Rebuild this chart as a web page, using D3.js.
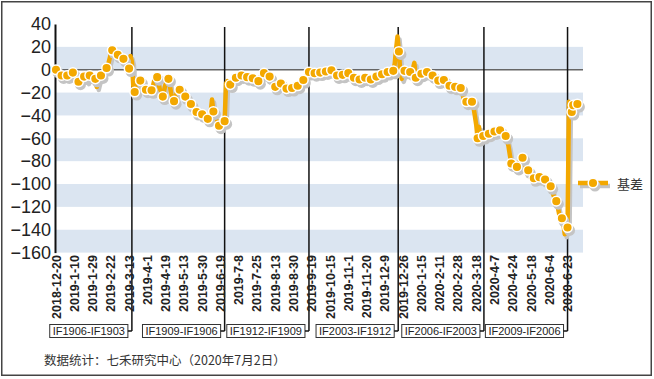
<!DOCTYPE html>
<html><head><meta charset="utf-8">
<script src="https://cdn.jsdelivr.net/npm/d3@7"></script>
<style>
html,body{margin:0;padding:0;background:#fff;}
svg{display:block;}
</style></head>
<body>
<svg id="chart" width="654" height="379"></svg>
<script>
// Daily basis values (trading days)
const basis = [
 0,-2,-4,-3, -5,-6,-4,-5, -5,-7,-4,-3, -2.5,-4,-8,-10, -10.5,-9,-7,-6, -6,-8,-10,-6,
 -5,-4,-6,-9, -8,-15,-10,-6, -5,-4,-2,0, 1.5,4,9,14, 17,16,14,13, 13,12,10,10,
 9.5,8,6,3, 1,12,7,-14, -19.5,-17,-13,-10, -9.5,-12,-16,-18, -17.5,-19,-18,-17,
 -18,-14,-9,-7, -6.5,-12,-18,-22, -23.5,-18,-12,-9, -8,-14,-21,-26, -27.5,-24,-20,-18,
 -17.5,-19,-21,-22, -23.5,-25,-27,-29, -30,-32,-34,-36, -37,-38,-38,-39, -39,-40,-42,-42,
 -43,-40,-38,-26, -36.5,-40,-44,-47, -49,-48,-47,-46, -45,-12,-10,-11, -13,-11,-9,-8,
 -7,-6,-5,-5, -5,-6,-6,-7, -6.5,-7,-7,-7, -7.5,-8,-9,-10, -10,-8,-5,-3, -3,-4,-5,-6,
 -6,-9,-13,-15, -15,-17,-14,-12, -12,-13,-15,-16, -16.5,-17,-16,-16, -16,-15,-15,-14,
 -14,-13,-11,-10, -9,-7,-5,-3, -2,0,-3,-3, -3,-3,-2,-2, -2.5,-2,-2,-1.5, -1.5,-1,-1,-1,
 -0.5,-2,-4,-5, -5,-5,-4,-4, -4.5,-4,-3,-3, -3,-4,-6,-7, -7,-8,-8,-8, -8.5,-8,-7,-7,
 -7,-7,-8,-8, -8.5,-8,-7,-6, -6,-5,-5,-4, -4,-3,-3,-2, -2,-2,-1.5,-1, -1,5,18,29,
 16,-2,-8,-4, -1,-1,-2,-2, -2,-3,1,6, -7,-6,-5,-4, -3.5,-3,-2,-2, -2,-3,-4,-5,
 -5,-7,-9,-9, -9.5,-9,-9,-9, -9,-10,-12,-13, -14,-15,-15,-15, -15,-15,-16,-16,
 -16,-20,-25,-28, -28,-29,-27,-26, -28,-32,-40,-48, -60,-50,-62,-59, -58,-57,-56,-56,
 -56,-55,-55,-54, -54,-53,-53,-53, -53,-54,-55,-56, -58,-62,-67,-75, -82,-85,-84,-85,
 -85,-84,-80,-76, -77,-80,-84,-86, -88,-92,-95,-95, -95,-96,-95,-93, -94,-92,-93,-95,
 -96,-98,-99,-100, -102,-106,-110,-112, -115,-120,-126,-128, -130,-134,-144,-140,
 -138,-28,-35,-37, -31,-38,-32,-30
];
const tickLabels = ["2018-12-20","2019-1-10","2019-1-29","2019-2-22","2019-3-13","2019-4-1","2019-4-19","2019-5-13","2019-5-30","2019-6-19","2019-7-8","2019-7-25","2019-8-13","2019-8-30","2019-9-19","2019-10-15","2019-11-1","2019-11-20","2019-12-9","2019-12-26","2020-1-15","2020-2-11","2020-2-28","2020-3-18","2020-4-7","2020-4-24","2020-5-18","2020-6-4","2020-6-23"];
const TICK_EVERY = 13;           // trading days between labels
const rollIndex = [54, 120, 180, 243.5, 304.5, 364];
const rollLabels = ["IF1906-IF1903","IF1909-IF1906","IF1912-IF1909","IF2003-IF1912","IF2006-IF2003","IF2009-IF2006"];
const yTicks = [40,20,0,-20,-40,-60,-80,-100,-120,-140,-160];
const seriesName = "基差";
const sourceText = "数据统计：七禾研究中心（2020年7月2日）";

const ORANGE = "#f3a800", SHADOW = "#c4c4c4", BAND = "#dbe5f1";
const svg = d3.select("#chart");
const L = 56, R = 583, T = 24, B = 252.6;
const x = d3.scaleLinear().domain([0, 375]).range([L, R]);
const y = d3.scaleLinear().domain([-160, 40]).range([B, T]);

// frame
svg.append("rect").attr("x",1.75).attr("y",1.75).attr("width",649.5).attr("height",373.5)
  .attr("fill","#fff").attr("stroke","#444").attr("stroke-width",1.5);

// bands: [0,20], [-40,-20], ...
const bandTops = yTicks.filter(v => v <= 20 && v > -160 && ((20 - v) / 20) % 2 === 0);
svg.append("g").selectAll("rect").data(bandTops).join("rect")
  .attr("x", L).attr("width", R - L)
  .attr("y", d => y(d)).attr("height", d => y(d - 20) - y(d))
  .attr("fill", BAND);

// zero line
svg.append("line").attr("x1",L).attr("x2",R).attr("y1",y(0)).attr("y2",y(0))
  .attr("stroke","#666").attr("stroke-width",1.5);

// y axis
const yAxis = d3.axisLeft(y).tickValues(yTicks).tickSize(0).tickPadding(4);
const gy = svg.append("g").attr("transform",`translate(${L-1},0)`).call(yAxis);
gy.select(".domain").attr("stroke","#111").attr("stroke-width",2);
gy.selectAll("text").attr("font-family","Liberation Sans, Arial, sans-serif")
  .attr("font-size",18).attr("fill","#222");

// roll lines
const boxY = 331;
const rollG = svg.append("g");
rollG.selectAll("line.roll").data(rollIndex).join("line").attr("class","roll")
  .attr("x1", d => x(d)).attr("x2", d => x(d)).attr("y1", 27).attr("y2", boxY)
  .attr("stroke","#111").attr("stroke-width",1.5);

// x labels
const gx = svg.append("g");
gx.selectAll("text").data(tickLabels).join("text")
  .attr("transform", (d,i) => `translate(${x(i*TICK_EVERY)+0.5},255) rotate(-90)`)
  .attr("text-anchor","end").attr("dominant-baseline","central")
  .attr("font-family","Liberation Sans, Arial, sans-serif").attr("font-weight","bold")
  .attr("font-size",12.5).attr("fill","#222").text(d => d);

// boxes
const boxG = svg.append("g");
rollLabels.forEach((lab, k) => {
  const g = boxG.append("g");
  const t = g.append("text").attr("font-family","Liberation Sans, Arial, sans-serif")
    .attr("font-size",11).attr("fill","#222").attr("dominant-baseline","central").text(lab);
  const w = t.node().getComputedTextLength();
  const right = x(rollIndex[k]) - 4;
  const left = right - w - 6;
  g.insert("rect","text").attr("x",left).attr("y",boxY-6.5).attr("width",right-left).attr("height",13)
    .attr("fill","#fff").attr("stroke","#333").attr("stroke-width",1);
  t.attr("x", left + 3).attr("y", boxY);
  g.append("line").attr("x1",right).attr("x2",x(rollIndex[k])).attr("y1",boxY).attr("y2",boxY)
    .attr("stroke","#111").attr("stroke-width",1.5);
});

// series
const line = d3.line().x((d,i) => x(i)).y(d => y(d));
const sg = svg.append("g");
sg.append("path").datum(basis).attr("d", line).attr("transform","translate(2,3)")
  .attr("fill","none").attr("stroke",SHADOW).attr("stroke-width",4.5).attr("stroke-linejoin","round");
sg.append("path").datum(basis).attr("d", line)
  .attr("fill","none").attr("stroke",ORANGE).attr("stroke-width",4.5).attr("stroke-linejoin","round");
const last = basis.length - 1;
const marks = basis.map((v,i)=>({i,v})).filter(d => d.i % 4 === 0 || d.i === last || d.i === last - 4);
sg.selectAll("circle.sh").data(marks).join("circle").attr("class","sh")
  .attr("cx", d => x(d.i)+2).attr("cy", d => y(d.v)+3).attr("r",5.5).attr("fill",SHADOW);
sg.selectAll("circle.m").data(marks).join("circle").attr("class","m")
  .attr("cx", d => x(d.i)).attr("cy", d => y(d.v)).attr("r",4.8)
  .attr("fill",ORANGE).attr("stroke","#fff").attr("stroke-width",1.5);

// legend
const lg = svg.append("g").attr("transform","translate(578,183)");
lg.append("line").attr("x1",2).attr("x2",32).attr("y1",3).attr("y2",3).attr("stroke",SHADOW).attr("stroke-width",4.5);
lg.append("line").attr("x1",0).attr("x2",30).attr("y1",0).attr("y2",0).attr("stroke",ORANGE).attr("stroke-width",4.5);
lg.append("circle").attr("cx",17).attr("cy",3).attr("r",5.5).attr("fill",SHADOW);
lg.append("circle").attr("cx",15).attr("cy",0).attr("r",4.8).attr("fill",ORANGE).attr("stroke","#fff").attr("stroke-width",1.5);
lg.append("text").attr("x",39).attr("y",0).attr("dominant-baseline","central")
  .attr("font-family","Noto Sans CJK SC, sans-serif").attr("font-size",13).attr("fill","#333").text(seriesName);

// source
svg.append("text").attr("x",44).attr("y",359).attr("dominant-baseline","central")
  .attr("font-family","Noto Sans CJK SC, sans-serif").attr("font-size",12.5).attr("fill","#333").text(sourceText);
</script>
</body></html>
